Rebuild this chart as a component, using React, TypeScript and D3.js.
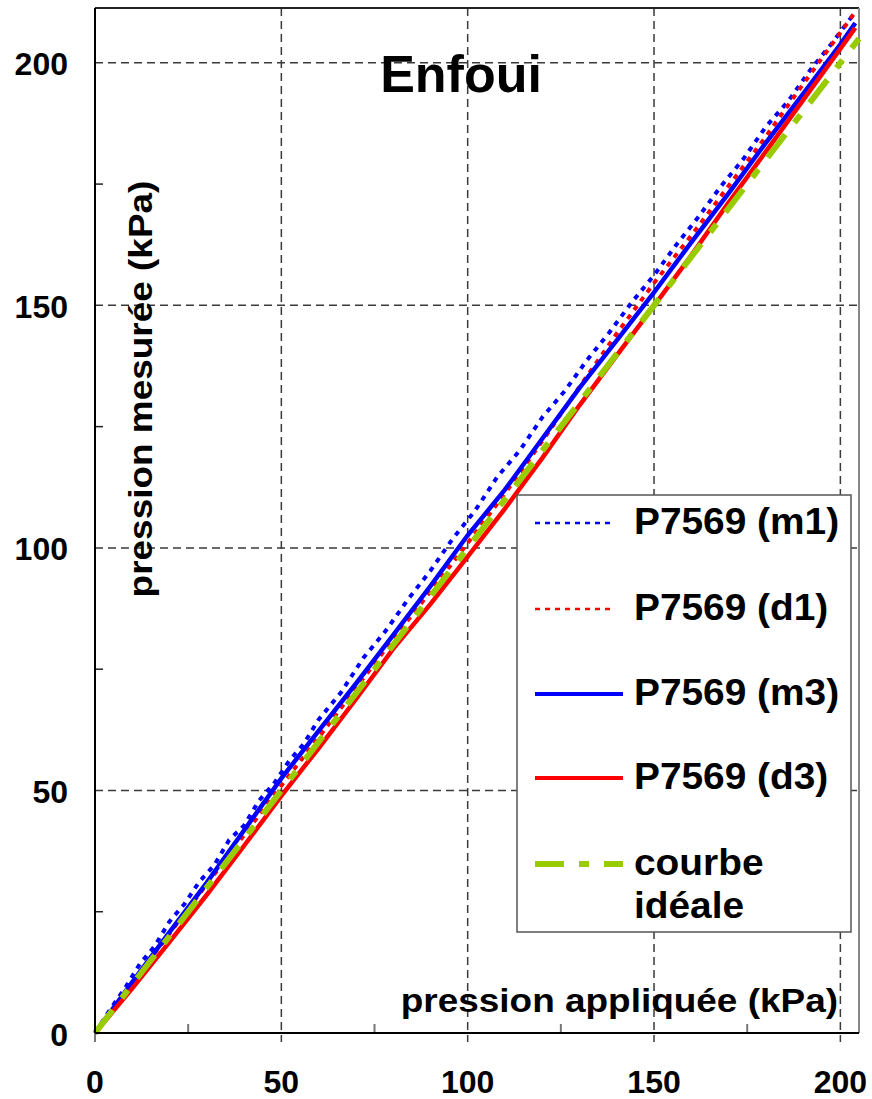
import React from "react";
import * as d3 from "d3";

// values (kPa)
const m1Applied = [0, 4, 8, 12, 16, 20, 24, 28, 32, 36, 40, 44, 48, 52, 56, 60, 66, 72, 78, 84, 90, 96, 102, 108, 114, 120, 126, 132, 138, 144, 150, 156, 162, 168, 174, 180, 186, 192, 198, 204];
const m1Measured = [0, 4.8, 9.2, 14.2, 17.9, 23.0, 26.6, 31.2, 34.6, 39.8, 42.8, 47.9, 51.4, 56.0, 59.6, 64.6, 70.2, 77.3, 82.9, 89.4, 95.3, 101.9, 107.7, 114.7, 120.1, 126.9, 132.3, 138.7, 144.4, 150.6, 156.2, 162.5, 168.3, 174.6, 180.2, 186.8, 192.1, 198.6, 204.3, 210.5];

const d1Applied = [0, 10, 20, 30, 40, 50, 60, 70, 80, 90, 100, 110, 120, 130, 140, 150, 160, 170, 180, 190, 200, 204];
const d1Measured = [0, 10.3, 20.5, 30.7, 40.8, 51.0, 60.9, 71.1, 81.2, 91.0, 101.0, 111.2, 122.0, 133.2, 144.2, 154.6, 164.4, 174.6, 184.8, 195.6, 206.2, 210.5];

const m3Applied = [0, 10, 20, 30, 40, 50, 60, 70, 80, 90, 100, 110, 120, 130, 140, 150, 160, 170, 180, 190, 200, 204];
const m3Measured = [0, 10.5, 20.8, 31.0, 41.8, 52.5, 62.3, 72.0, 82.0, 92.1, 102.6, 112.0, 122.5, 133.0, 142.8, 152.7, 163.0, 173.1, 183.5, 193.6, 203.8, 208.2];

const d3Applied = [0, 10, 20, 30, 40, 50, 60, 70, 80, 90, 100, 110, 120, 130, 140, 150, 160, 170, 180, 190, 200, 204];
const d3Measured = [0, 9.2, 18.8, 28.5, 38.6, 48.9, 58.7, 68.8, 79.2, 88.4, 98.2, 108.1, 118.5, 129.4, 139.7, 149.9, 160.3, 171.2, 181.7, 192.3, 202.9, 207.2];

const idealApplied = [0, 205];
const idealMeasured = [0, 205];

const xTicks = [0, 50, 100, 150, 200];
const yTicks = [0, 50, 100, 150, 200];
const minorTicks = [25, 75, 125, 175];

const seriesNames = ["P7569 (m1)", "P7569 (d1)", "P7569 (m3)", "P7569 (d3)", "courbe|idéale"];

const FONT = "'Liberation Sans', Arial, sans-serif";

export default function App() {
  const x = d3.scaleLinear().domain([0, 205]).range([95, 859]);
  const y = d3.scaleLinear().domain([0, 211.3]).range([1033, 8]);

  const line = d3
    .line<[number, number]>()
    .x((d) => x(d[0]))
    .y((d) => y(d[1]));

  const zip = (a: number[], b: number[]) => a.map((v, i) => [v, b[i]] as [number, number]);

  const series = [
    { data: zip(m1Applied, m1Measured), color: "#0000ff", width: 4, dash: "5 6", legendW: 2.5, legendDash: "5 5" },
    { data: zip(d1Applied, d1Measured), color: "#ff0000", width: 4, dash: "5 6", legendW: 2.5, legendDash: "5 5" },
    { data: zip(m3Applied, m3Measured), color: "#0000ff", width: 4.5, dash: null, legendW: 4, legendDash: null },
    { data: zip(d3Applied, d3Measured), color: "#ff0000", width: 4.5, dash: null, legendW: 4, legendDash: null },
    { data: zip(idealApplied, idealMeasured), color: "#99cc00", width: 6, dash: "29 15 10 15", legendW: 6, legendDash: "29 15 10 15" },
  ];

  const legendRows = [523, 609, 694, 778, 864];

  return (
    <svg
      width={872}
      height={1099}
      style={{ position: "absolute", left: 0, top: 0, background: "#fff" }}
      fontFamily={FONT}
      fontWeight="bold"
    >
      <rect x={0} y={0} width={872} height={1099} fill="#fff" />

      {/* grid */}
      {xTicks.filter((t) => t > 0).map((t) => (
        <line key={"gx" + t} x1={x(t)} x2={x(t)} y1={8} y2={1042} stroke="#3a3a3a" strokeWidth={1.5} strokeDasharray="8 5" />
      ))}
      {yTicks.filter((t) => t > 0).map((t) => (
        <line key={"gy" + t} x1={95} x2={859} y1={y(t)} y2={y(t)} stroke="#3a3a3a" strokeWidth={1.5} strokeDasharray="8 5" />
      ))}

      {/* frame */}
      <line x1={95} x2={859} y1={8} y2={8} stroke="#222" strokeWidth={2} />
      <line x1={859} x2={859} y1={8} y2={1033} stroke="#888" strokeWidth={2} />

      {/* minor ticks */}
      {minorTicks.map((t) => (
        <line key={"mx" + t} x1={x(t)} x2={x(t)} y1={1033} y2={1024} stroke="#777" strokeWidth={2} />
      ))}
      {minorTicks.map((t) => (
        <line key={"my" + t} x1={95} x2={103} y1={y(t)} y2={y(t)} stroke="#222" strokeWidth={1.5} />
      ))}
      <line x1={95} x2={95} y1={1033} y2={1042} stroke="#777" strokeWidth={2} />

      {/* title */}
      <text x={461} y={92} fontSize={52} textAnchor="middle" fill="#000">Enfoui</text>

      {/* axis titles */}
      <text transform="translate(838,1012) scale(1.12,1)" fontSize={33} textAnchor="end" fill="#000">
        pression appliquée (kPa)
      </text>
      <text transform="translate(152,389) rotate(-90) scale(1.12,1)" fontSize={33} textAnchor="middle" fill="#000">
        pression mesurée (kPa)
      </text>

      {/* data */}
      {series.map((s, i) => (
        <path
          key={"s" + i}
          d={line(s.data) || ""}
          fill="none"
          stroke={s.color}
          strokeWidth={s.width}
          strokeDasharray={s.dash || undefined}
        />
      ))}

      {/* axes */}
      <line x1={95} x2={95} y1={8} y2={1033} stroke="#000" strokeWidth={2} />
      <line x1={95} x2={859} y1={1033} y2={1033} stroke="#000" strokeWidth={2} />

      {/* tick labels */}
      {yTicks.map((t) => (
        <text key={"ly" + t} x={68} y={y(t) + 12.5} fontSize={32} textAnchor="end" fill="#000">{t}</text>
      ))}
      {xTicks.map((t) => (
        <text key={"lx" + t} x={x(t)} y={1093} fontSize={32} textAnchor="middle" fill="#000">{t}</text>
      ))}

      {/* legend */}
      <rect x={517} y={495} width={334} height={437} fill="#fff" stroke="#555" strokeWidth={1.5} />
      {series.map((s, i) => (
        <g key={"lg" + i}>
          <line
            x1={535}
            x2={s.legendDash === "5 5" ? 615 : 623}
            y1={legendRows[i]}
            y2={legendRows[i]}
            stroke={s.color}
            strokeWidth={s.legendW}
            strokeDasharray={s.legendDash || undefined}
          />
          {seriesNames[i].split("|").map((part, j) => (
            <text
              key={j}
              transform={`translate(634,${legendRows[i] + 11 + j * 43}) scale(1.05,1)`}
              fontSize={37}
              fill="#000"
            >
              {part}
            </text>
          ))}
        </g>
      ))}
    </svg>
  );
}
